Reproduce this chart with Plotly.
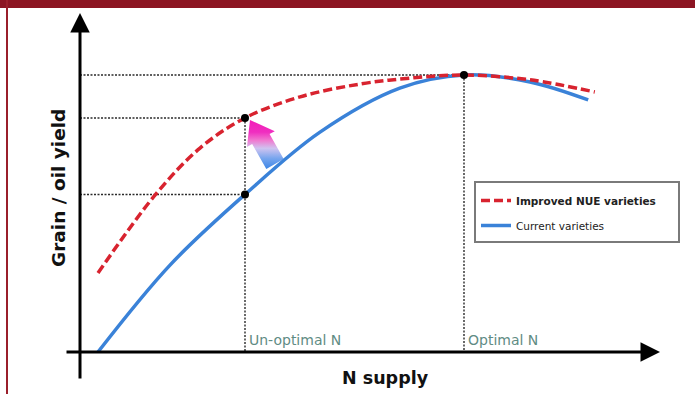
import plotly.graph_objects as go
import numpy as np

# ---------------- data (arbitrary units) ----------------
n_supply_current = [3, 15, 27.5, 40, 53.3, 64, 75, 84.7]
yield_current = [0, 25.1, 45.5, 63.5, 76.2, 80, 78, 72.8]

n_supply_improved = [3, 12.5, 20, 27.5, 36.7, 46.7, 55, 64, 75, 85.8]
yield_improved = [22.8, 45.3, 58.9, 67.6, 73.7, 77.4, 79.1, 80, 78.6, 75.1]

un_optimal_n = 27.5
optimal_n = 64

series_names = ["<b>Improved NUE varieties</b>", "Current varieties"]
marker_labels = ["Un-optimal N", "Optimal N"]
x_title = "N supply"
y_title = "Grain / oil yield"

# ---------------- layout geometry ----------------
W, H = 695, 394
X0, SX = 80, 6.0        # pixel of x=0, pixels per unit
Y0, SY = 352, 3.4625    # pixel of y=0, pixels per unit


def to_data(xp, yp):
    return (xp - X0) / SX, (Y0 - yp) / SY


def to_px(xd, yd):
    return X0 + SX * xd, Y0 - SY * yd


BLUE = "#3a82d8"
RED = "#d8232f"
GUIDE = "#2a2a2a"

fig = go.Figure()

# dotted guide lines
i_un_b = n_supply_current.index(un_optimal_n)
i_un_r = n_supply_improved.index(un_optimal_n)
i_opt = n_supply_current.index(optimal_n)
y_un_b = yield_current[i_un_b]
y_un_r = yield_improved[i_un_r]
y_opt = yield_current[i_opt]

guide = dict(color=GUIDE, width=1.4, dash="2px,1.5px")
for yv, xv in [(y_opt, optimal_n), (y_un_r, un_optimal_n), (y_un_b, un_optimal_n)]:
    fig.add_trace(go.Scatter(x=[0, xv], y=[yv, yv], mode="lines", line=guide,
                             showlegend=False, hoverinfo="skip"))
for xv, yv in [(un_optimal_n, y_un_r), (optimal_n, y_opt)]:
    fig.add_trace(go.Scatter(x=[xv, xv], y=[yv, 0], mode="lines", line=guide,
                             showlegend=False, hoverinfo="skip"))

# gradient block arrow from current curve toward improved curve
tip_x, tip_y = to_px(un_optimal_n, y_un_r)
tip = np.array([tip_x + 5, tip_y + 2])
tail = tip + np.array([25, 44])
d = tip - tail
L = np.hypot(*d)
u = d / L
nrm = np.array([-u[1], u[0]])
head_len, head_hw, shaft_hw = 22, 16, 10
base = tip - u * head_len
poly = [tail + nrm * shaft_hw, base + nrm * shaft_hw, base + nrm * head_hw, tip,
        base - nrm * head_hw, base - nrm * shaft_hw, tail - nrm * shaft_hw,
        tail + nrm * shaft_hw]
ax_, ay_ = zip(*[to_data(p[0], p[1]) for p in poly])
fig.add_trace(go.Scatter(
    x=list(ax_), y=list(ay_), mode="lines", fill="toself",
    line=dict(width=0, color="rgba(0,0,0,0)"),
    fillgradient=dict(type="vertical",
                      colorscale=[[0, "#3d86e6"], [0.22, "#79a6ee"],
                                  [0.42, "#cfc3f0"], [0.58, "#f07ad0"],
                                  [0.75, "#f02ec0"], [1, "#f21cb8"]]),
    showlegend=False, hoverinfo="skip"))

# curves
fig.add_trace(go.Scatter(
    x=n_supply_current, y=yield_current, mode="lines",
    line=dict(color=BLUE, width=3.5, shape="spline", smoothing=1.0),
    name=series_names[1], legendrank=2, legendgroup="b"))
fig.add_trace(go.Scatter(
    x=n_supply_improved, y=yield_improved, mode="lines",
    line=dict(color=RED, width=3.5, shape="spline", smoothing=1.0, dash="9px,4px"),
    name=series_names[0], legendrank=1, legendgroup="a"))

# black points
fig.add_trace(go.Scatter(
    x=[un_optimal_n, un_optimal_n, optimal_n], y=[y_un_r, y_un_b, y_opt],
    mode="markers", marker=dict(color="black", size=8),
    showlegend=False, hoverinfo="skip"))

annotations = []
# axis arrows
annotations.append(dict(x=0, y=to_data(0, 13)[1], ax=0, ay=to_data(0, 380)[1],
                        xref="x", yref="y", axref="x", ayref="y", text="",
                        showarrow=True, arrowhead=2, arrowsize=1.3, arrowwidth=3,
                        arrowcolor="black"))
annotations.append(dict(x=to_data(660, 0)[0], y=0, ax=to_data(65, 0)[0], ay=0,
                        xref="x", yref="y", axref="x", ayref="y", text="",
                        showarrow=True, arrowhead=2, arrowsize=1.3, arrowwidth=3,
                        arrowcolor="black"))
# N markers
for xv, lab in zip([un_optimal_n, optimal_n], marker_labels):
    annotations.append(dict(x=xv, y=0, xref="x", yref="y", text=lab,
                            showarrow=False, xanchor="left", yanchor="bottom",
                            xshift=2, yshift=2,
                            font=dict(family="DejaVu Sans", size=14, color="#5f8c84")))
# titles
annotations.append(dict(x=385 / W, y=1 - 378 / H, xref="paper", yref="paper",
                        xanchor="center", yanchor="middle",
                        text=f"<b>{x_title}</b>", showarrow=False,
                        font=dict(family="DejaVu Sans", size=17.5, color="#111")))
annotations.append(dict(x=58 / W, y=1 - 188 / H, xref="paper", yref="paper",
                        xanchor="center", yanchor="middle",
                        text=f"<b>{y_title}</b>", showarrow=False, textangle=-90,
                        font=dict(family="DejaVu Sans", size=18.5, color="#111")))

shapes = [
    dict(type="rect", xref="paper", yref="paper", x0=0, x1=1, y0=1 - 8 / H, y1=1,
         fillcolor="#8c1522", line=dict(width=0)),
    dict(type="rect", xref="paper", yref="paper", x0=6 / W, x1=8 / W, y0=0, y1=1,
         fillcolor="#9a1f2b", line=dict(width=0)),
    dict(type="rect", xref="paper", yref="paper", x0=475 / W, x1=679 / W,
         y0=1 - 242 / H, y1=1 - 182 / H, fillcolor="rgba(0,0,0,0)",
         line=dict(color="#7a7a7a", width=2)),
]

fig.update_layout(
    width=W, height=H, margin=dict(l=0, r=0, t=0, b=0),
    paper_bgcolor="white", plot_bgcolor="white",
    xaxis=dict(range=[-X0 / SX, (W - X0) / SX], visible=False, fixedrange=True),
    yaxis=dict(range=[-(H - Y0) / SY, Y0 / SY], visible=False, fixedrange=True),
    showlegend=True,
    legend=dict(x=476 / W, y=1 - 186 / H, xanchor="left", yanchor="top",
                bgcolor="rgba(0,0,0,0)", borderwidth=0, tracegroupgap=6,
                traceorder="grouped",
                font=dict(family="DejaVu Sans", size=10.5, color="#222")),
    annotations=annotations, shapes=shapes,
)

fig.write_html("out.html", config={"displayModeBar": False},
               post_script="document.body.style.margin='0px';"
                           "document.body.style.overflow='hidden';")
